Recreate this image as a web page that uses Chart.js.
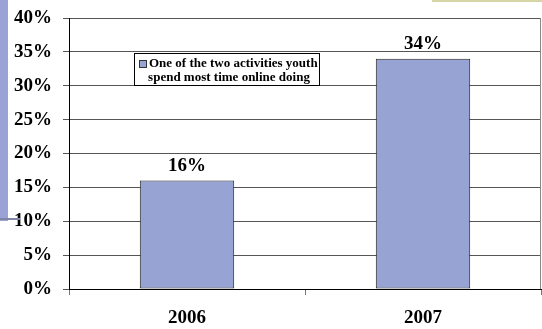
<!DOCTYPE html>
<html>
<head>
<meta charset="utf-8">
<script src="https://cdn.jsdelivr.net/npm/chart.js@4"></script>
<style>
    body { margin: 0; background: #fff; }
    #wrap { position: relative; width: 542px; height: 329px; overflow: hidden; }
    #wrap canvas { position: absolute; left: 0; top: 0; }
    .strip { position: absolute; left: 0; top: 0; width: 8px; height: 221px; background: #9aa3d6; }
    .strip-foot { position: absolute; left: 0; top: 218px; width: 20px; height: 2px; background: #7f86a8; }
    .tab { position: absolute; left: 432px; top: 0; width: 110px; height: 2px; background: #d5d5a6; }
</style>
</head>
<body>
<div id="wrap">
    <canvas id="chart" width="542" height="329"></canvas>
    <div class="strip"></div>
    <div class="strip-foot"></div>
    <div class="tab"></div>
</div>
<script>
// --- Data ---
const years = ['2006', '2007'];
const shares = [16, 34];
const yTicks = [0, 5, 10, 15, 20, 25, 30, 35, 40];
const legendLines = ['One of the two activities youth', 'spend most time online doing'];

const serif = '"Liberation Serif", "Times New Roman", serif';

// value labels above each bar
const barLabels = {
    id: 'barLabels',
    afterDatasetsDraw(chart) {
        const ctx = chart.ctx;
        const meta = chart.getDatasetMeta(0);
        ctx.save();
        ctx.font = 'bold 19px ' + serif;
        ctx.fillStyle = '#000';
        ctx.textAlign = 'center';
        ctx.textBaseline = 'bottom';
        meta.data.forEach((bar, i) => {
            ctx.fillText(chart.data.datasets[0].data[i] + '%', bar.x, bar.y - 5);
        });
        ctx.restore();
    }
};

// boxed legend inside the plot + right edge of the plot frame
const boxLegend = {
    id: 'boxLegend',
    afterDraw(chart) {
        const ctx = chart.ctx;
        const area = chart.chartArea;
        ctx.save();
        ctx.strokeStyle = '#888';
        ctx.lineWidth = 1;
        ctx.beginPath();
        ctx.moveTo(area.right - 0.5, area.top);
        ctx.lineTo(area.right - 0.5, area.bottom);
        ctx.stroke();

        const bx = 134, by = 53, bw = 185, bh = 32;
        ctx.fillStyle = '#fff';
        ctx.fillRect(bx, by, bw, bh);
        ctx.strokeStyle = '#000';
        ctx.strokeRect(bx + 0.5, by + 0.5, bw, bh);

        ctx.fillStyle = chart.data.datasets[0].backgroundColor;
        ctx.fillRect(139.5, 60.5, 7, 7);
        ctx.strokeStyle = '#333';
        ctx.strokeRect(139.5, 60.5, 7, 7);

        ctx.fillStyle = '#000';
        ctx.font = 'bold 13px ' + serif;
        ctx.textBaseline = 'middle';
        ctx.textAlign = 'left';
        ctx.fillText(legendLines[0], 149, 64);
        ctx.textAlign = 'center';
        ctx.fillText(legendLines[1], 229, 78);
        ctx.restore();
    }
};

new Chart(document.getElementById('chart'), {
    type: 'bar',
    data: {
        labels: years,
        datasets: [{
            label: legendLines.join(' '),
            data: shares,
            backgroundColor: '#97a4d3',
            borderColor: '#222',
            borderWidth: 1,
            borderSkipped: false,
            categoryPercentage: 1,
            barPercentage: 0.4
        }]
    },
    options: {
        responsive: false,
        animation: false,
        layout: { padding: { top: 18, right: 1, left: 0, bottom: 0 } },
        plugins: {
            legend: { display: false },
            tooltip: { enabled: false }
        },
        scales: {
            x: {
                grid: { display: true, drawOnChartArea: false, drawTicks: true, tickLength: 6, color: '#777' },
                border: { color: '#000', width: 1 },
                ticks: { color: '#000', padding: 12, font: { family: serif, size: 19, weight: 'bold' } },
                afterFit(scale) { scale.height = 40; scale.paddingLeft = 0; scale.paddingRight = 0; }
            },
            y: {
                min: 0,
                max: 40,
                afterBuildTicks(scale) { scale.ticks = yTicks.map(v => ({ value: v })); },
                grid: { color: '#555', tickLength: 6, drawTicks: true },
                border: { color: '#000', width: 1 },
                ticks: {
                    color: '#000',
                    padding: 11,
                    font: { family: serif, size: 19, weight: 'bold' },
                    callback: v => v + '%'
                },
                afterFit(scale) { scale.width = 69; scale.paddingTop = 0; scale.paddingBottom = 0; }
            }
        }
    },
    plugins: [barLabels, boxLegend]
});
</script>
</body>
</html>
